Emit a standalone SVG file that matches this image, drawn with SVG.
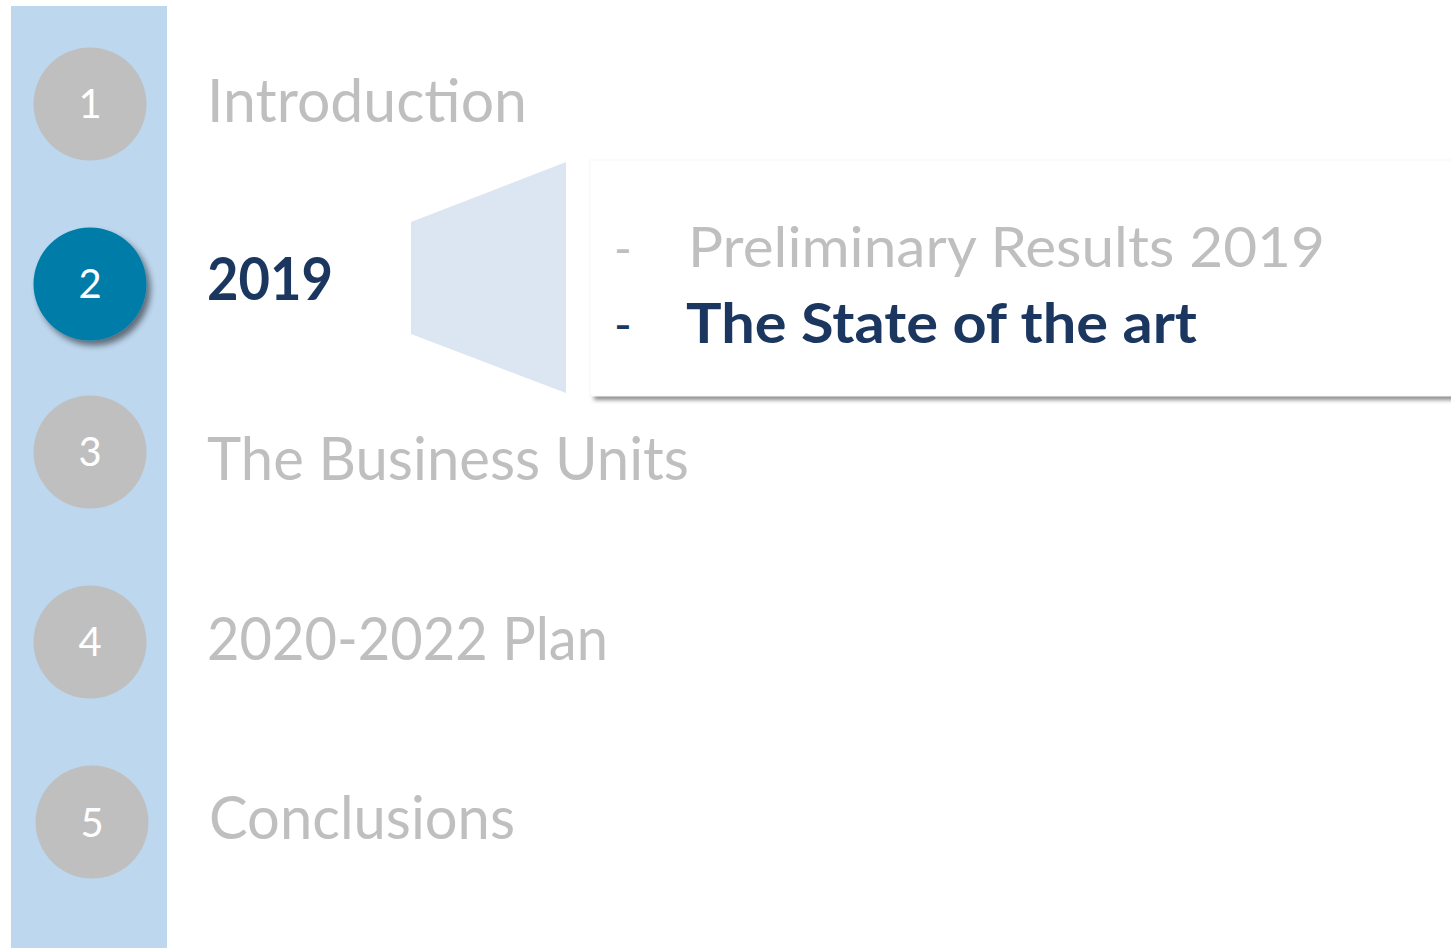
<svg xmlns="http://www.w3.org/2000/svg" width="1451" height="948" viewBox="0 0 1451 948">
<style>
.num{font-family:Lato,"Open Sans",sans-serif;font-size:40px;fill:#fff;text-anchor:middle}
.item{font-family:Lato,"Open Sans",sans-serif;font-size:60px;fill:#bfbfbf}
.cur{font-family:Lato,"Open Sans",sans-serif;font-size:60px;font-weight:bold;fill:#1b365f}
.sub{font-family:Lato,"Open Sans",sans-serif;font-size:56px;fill:#bfbfbf}
.subcur{font-family:Lato,"Open Sans",sans-serif;font-size:56px;font-weight:bold;fill:#1b365f}
.dash{font-family:Lato,"Open Sans",sans-serif;font-size:48px}
.grey{fill:#bfbfbf}
.active{fill:#007ca8}
</style>
<defs>
<filter id="sh" x="-20%" y="-20%" width="150%" height="150%">
<feGaussianBlur in="SourceAlpha" stdDeviation="3"/>
<feOffset dx="4" dy="5"/>
<feComponentTransfer><feFuncA type="linear" slope="0.5"/></feComponentTransfer>
<feMerge><feMergeNode/><feMergeNode in="SourceGraphic"/></feMerge>
</filter>
<filter id="blur" x="-5%" y="-100%" width="110%" height="300%">
<feGaussianBlur stdDeviation="2"/>
</filter>
</defs>
<rect x="11" y="6" width="156" height="942" fill="#bdd7ee"/>
<g id="node1"><circle cx="90" cy="104" r="56.5" class="grey"/><text x="90" y="118" class="num">1</text><text x="207" y="122" class="item" textLength="320" lengthAdjust="spacingAndGlyphs">Introduction</text></g>
<g id="node2"><circle cx="90" cy="284" r="56.5" class="active" filter="url(#sh)"/><text x="90" y="298" class="num">2</text><text x="207" y="300" class="cur" textLength="126" lengthAdjust="spacingAndGlyphs">2019</text></g>
<g id="node3"><circle cx="90" cy="452" r="56.5" class="grey"/><text x="90" y="466" class="num">3</text><text x="207" y="480" class="item" textLength="482" lengthAdjust="spacingAndGlyphs">The Business Units</text></g>
<g id="node4"><circle cx="90" cy="642" r="56.5" class="grey"/><text x="90" y="656" class="num">4</text><text x="207" y="660" class="item" textLength="401" lengthAdjust="spacingAndGlyphs">2020-2022 Plan</text></g>
<g id="node5"><circle cx="92" cy="822" r="56.5" class="grey"/><text x="92" y="837" class="num">5</text><text x="209" y="839" class="item" textLength="306" lengthAdjust="spacingAndGlyphs">Conclusions</text></g>
<g id="connectors"><polygon points="411,222 566,162 566,393 411,334" fill="#dce6f2"/></g>
<g id="detail">
<rect x="594" y="393" width="870" height="7" fill="#8c8c8c" filter="url(#blur)"/>
<rect x="590" y="160" width="870" height="236" fill="#fff" stroke="#f6f6f6" stroke-width="1"/>
<text x="614" y="266" class="dash grey">-</text>
<text x="688" y="267" class="sub" textLength="637" lengthAdjust="spacingAndGlyphs">Preliminary Results 2019</text>
<text x="614" y="342" class="dash" fill="#1b365f">-</text>
<text x="686" y="343" class="subcur" textLength="511" lengthAdjust="spacingAndGlyphs">The State of the art</text>
</g>
</svg>
